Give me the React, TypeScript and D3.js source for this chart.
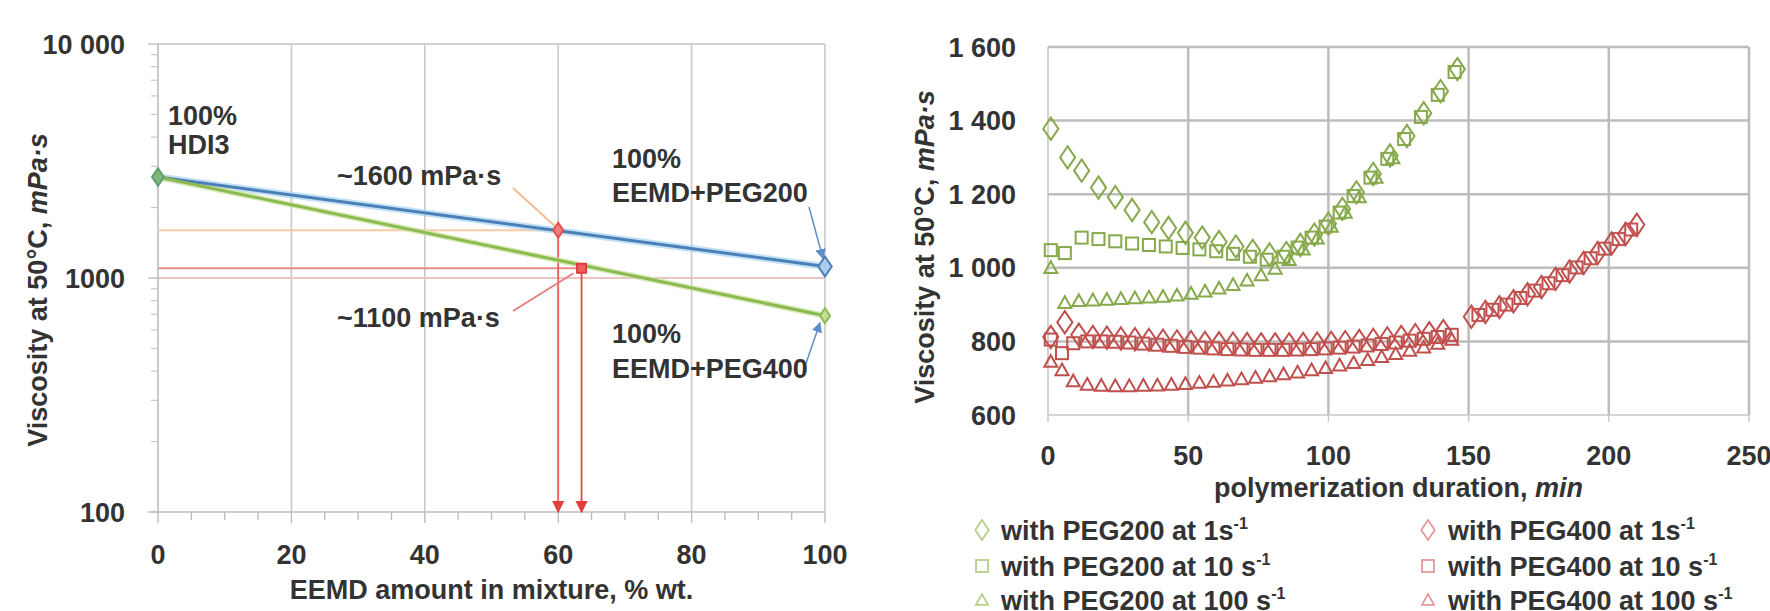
import React from "react";
import * as d3 from "d3";

// ---------- Left chart data ----------
const leftXTicks = [0, 20, 40, 60, 80, 100];
const leftYTicks = [100, 1000, 10000];
const leftYTickLabels = ["100", "1000", "10 000"];
const mixX = [0, 100];
const peg200Visc = [2700, 1120];
const peg400Visc = [2700, 690];
const point1600 = [60, 1600];
const point1100 = [63.5, 1100];

// ---------- Right chart data ----------
const rightXTicks = [0, 50, 100, 150, 200, 250];
const rightYTicks = [600, 800, 1000, 1200, 1400, 1600];
const rightYTickLabels = ["600", "800", "1 000", "1 200", "1 400", "1 600"];

const peg200_1_t = [1, 7, 12, 18, 24, 30, 37, 43, 49, 55, 61, 67, 73, 79, 85, 90, 95, 100, 105, 110, 116, 122, 128, 134, 140, 146];
const peg200_1_v = [1378, 1300, 1264, 1218, 1192, 1157, 1124, 1108, 1095, 1082, 1070, 1058, 1046, 1036, 1040, 1062, 1090, 1120, 1160, 1205, 1255, 1305, 1358, 1420, 1480, 1540];
const peg200_10_t = [1, 6, 12, 18, 24, 30, 36, 42, 48, 54, 60, 66, 72, 78, 84, 89, 94, 99, 104, 109, 115, 121, 127, 133, 139, 145];
const peg200_10_v = [1048, 1040, 1082, 1078, 1072, 1066, 1062, 1058, 1054, 1050, 1045, 1038, 1030, 1022, 1030, 1055, 1082, 1112, 1150, 1195, 1245, 1296, 1350, 1410, 1470, 1532];
const peg200_100_t = [1, 6, 11, 16, 21, 26, 31, 36, 41, 46, 51, 56, 61, 66, 71, 76, 81, 86, 91, 96, 101, 106, 111, 117, 123];
const peg200_100_v = [1000, 905, 910, 912, 914, 916, 918, 920, 922, 925, 930, 936, 944, 954, 966, 980, 998, 1022, 1050, 1080, 1112, 1150, 1192, 1245, 1298];

const peg400_1_t = [1, 6, 11, 16, 21, 26, 31, 36, 41, 46, 51, 56, 61, 66, 71, 76, 81, 86, 91, 96, 101, 106, 111, 116, 121, 126, 131, 136, 141, 151, 156, 161, 166, 171, 176, 181, 186, 191, 196, 201, 206, 210];
const peg400_1_v = [812, 852, 818, 812, 810, 808, 806, 804, 802, 800, 798, 796, 795, 794, 793, 792, 792, 792, 793, 794, 796, 798, 801, 804, 808, 812, 817, 822, 828, 867, 880, 893, 909, 928, 948, 970, 990, 1013, 1040, 1066, 1092, 1117];
const peg400_10_t = [1, 5, 9, 14, 19, 24, 29, 34, 39, 44, 49, 54, 59, 64, 69, 74, 79, 84, 89, 94, 99, 104, 109, 114, 119, 124, 129, 134, 139, 144, 153.5, 158.5, 163.5, 168.5, 173.5, 178.5, 183.5, 188.5, 193.5, 198.5, 203.5, 208];
const peg400_10_v = [805, 768, 795, 800, 800, 799, 797, 794, 791, 788, 785, 783, 781, 779, 778, 777, 777, 777, 778, 779, 781, 783, 786, 789, 793, 797, 802, 807, 812, 818, 872, 886, 900, 918, 938, 958, 980, 1001, 1026, 1052, 1078, 1104];
const peg400_100_t = [1, 5, 9, 14, 19, 24, 29, 34, 39, 44, 49, 54, 59, 64, 69, 74, 79, 84, 89, 94, 99, 104, 109, 114, 119, 124, 129, 134, 139, 144];
const peg400_100_v = [745, 722, 692, 683, 680, 679, 679, 680, 681, 683, 685, 688, 691, 694, 698, 702, 706, 711, 716, 722, 728, 735, 742, 750, 758, 766, 775, 784, 794, 805];

const legendLabels = [
  ["with PEG200 at 1s", "with PEG200 at 10 s", "with PEG200 at 100 s"],
  ["with PEG400 at 1s", "with PEG400 at 10 s", "with PEG400 at 100 s"],
];

const FONT = "'Liberation Sans', Arial, sans-serif";
const TXT = "#333";
const FS = 27;

function Marker({ shape, x, y, s, stroke, fill = "none", sw = 2 }: any) {
  if (shape === "diamond") {
    const h = s * 0.62;
    const w = s * 0.42;
    return <path d={`M${x},${y - h}L${x + w},${y}L${x},${y + h}L${x - w},${y}Z`} fill={fill} stroke={stroke} strokeWidth={sw} />;
  }
  if (shape === "square") {
    const h = s / 2;
    return <rect x={x - h} y={y - h} width={s} height={s} fill={fill} stroke={stroke} strokeWidth={sw} />;
  }
  const h = s / 2;
  return <path d={`M${x},${y - h}L${x + h},${y + h * 0.8}L${x - h},${y + h * 0.8}Z`} fill={fill} stroke={stroke} strokeWidth={sw} />;
}

export default function App() {
  // left scales
  const xL = d3.scaleLinear().domain([0, 100]).range([158, 825]);
  const yL = d3.scaleLog().domain([100, 10000]).range([512, 44]);
  // right scales
  const xR = d3.scaleLinear().domain([0, 250]).range([1048, 1749]);
  const yR = d3.scaleLinear().domain([600, 1600]).range([415, 47]);

  const lineL = d3.line<number>().x((_, i) => xL(mixX[i])).y((d) => yL(d));

  const minorY: number[] = [];
  [100, 1000].forEach((b) => { for (let k = 2; k <= 9; k++) minorY.push(b * k); });
  const minorX = d3.range(0, 101, 5);

  const green = "#86A94B";
  const red = "#C0504D";

  const rightSeries = [
    { t: peg200_1_t, v: peg200_1_v, shape: "diamond", stroke: green, s: 18 },
    { t: peg200_10_t, v: peg200_10_v, shape: "square", stroke: green, s: 12 },
    { t: peg200_100_t, v: peg200_100_v, shape: "tri", stroke: green, s: 13 },
    { t: peg400_1_t, v: peg400_1_v, shape: "diamond", stroke: red, s: 18 },
    { t: peg400_10_t, v: peg400_10_v, shape: "square", stroke: red, s: 12 },
    { t: peg400_100_t, v: peg400_100_v, shape: "tri", stroke: red, s: 13 },
  ];

  const p1600 = [xL(point1600[0]), yL(point1600[1])];
  const p1100 = [xL(point1100[0]), yL(point1100[1])];

  return (
    <svg width={1770} height={611} style={{ display: "block", position: "absolute", left: 0, top: 0, background: "#fff" }} fontFamily={FONT}>
      <defs>
        <marker id="arrRed" viewBox="0 0 10 10" refX="9" refY="5" markerWidth="7" markerHeight="7" orient="auto-start-reverse">
          <path d="M0,0L10,5L0,10Z" fill="#E04040" />
        </marker>
        <marker id="arrBlue" viewBox="0 0 10 10" refX="9" refY="5" markerWidth="7" markerHeight="7" orient="auto-start-reverse">
          <path d="M0,0L10,5L0,10Z" fill="#5B8FC9" />
        </marker>
      </defs>
      <rect x={0} y={0} width={1770} height={611} fill="#fff" />

      {/* ================= LEFT CHART ================= */}
      {/* gridlines */}
      {leftXTicks.slice(1).map((t) => (
        <line key={"lgx" + t} x1={xL(t)} x2={xL(t)} y1={yL(10000)} y2={yL(100)} stroke="#C9C9C9" strokeWidth={1.6} />
      ))}
      <line x1={xL(0)} x2={xL(100)} y1={yL(10000)} y2={yL(10000)} stroke="#D2D2D2" strokeWidth={2} />
      <line x1={xL(0)} x2={xL(100)} y1={yL(1000)} y2={yL(1000)} stroke="#EBC4C4" strokeWidth={2} />
      {/* axes */}
      <line x1={xL(0)} x2={xL(0)} y1={yL(10000)} y2={yL(100)} stroke="#BDBDBD" strokeWidth={1.6} />
      <line x1={xL(0) - 6} x2={xL(100)} y1={yL(100)} y2={yL(100)} stroke="#BDBDBD" strokeWidth={1.6} />
      {minorX.map((t) => (
        <line key={"lmx" + t} x1={xL(t)} x2={xL(t)} y1={yL(100)} y2={yL(100) + (t % 20 === 0 ? 11 : 8)} stroke="#BDBDBD" strokeWidth={1.4} />
      ))}
      {minorY.map((v) => (
        <line key={"lmy" + v} x1={xL(0) - 7} x2={xL(0)} y1={yL(v)} y2={yL(v)} stroke="#C8C8C8" strokeWidth={1.2} />
      ))}
      {leftYTicks.map((v) => (
        <line key={"lmj" + v} x1={xL(0) - 10} x2={xL(0)} y1={yL(v)} y2={yL(v)} stroke="#BDBDBD" strokeWidth={1.4} />
      ))}
      {/* tick labels */}
      {leftXTicks.map((t) => (
        <text key={"lxl" + t} x={xL(t)} y={564} textAnchor="middle" fontSize={FS} fontWeight="bold" fill={TXT}>{t}</text>
      ))}
      {leftYTicks.map((v, i) => (
        <text key={"lyl" + v} x={125} y={yL(v) + 9.5} textAnchor="end" fontSize={FS} fontWeight="bold" fill={TXT}>{leftYTickLabels[i]}</text>
      ))}
      <text x={(xL(0) + xL(100)) / 2} y={599} textAnchor="middle" fontSize={FS} fontWeight="bold" fill={TXT}>EEMD amount in mixture, % wt.</text>
      <text transform={`translate(47,290) rotate(-90)`} textAnchor="middle" fontSize={FS} fontWeight="bold" fill={TXT}>
        Viscosity at 50°C, <tspan fontStyle="italic">mPa·s</tspan>
      </text>

      {/* annotation lines */}
      <line x1={xL(0)} x2={p1600[0]} y1={p1600[1]} y2={p1600[1]} stroke="#F9C9A6" strokeWidth={2} />
      <line x1={xL(0)} x2={p1100[0]} y1={p1100[1]} y2={p1100[1]} stroke="#E98A8A" strokeWidth={2} />
      <line x1={p1600[0]} x2={p1600[0]} y1={p1600[1]} y2={yL(100)} stroke="#E86060" strokeWidth={1.8} markerEnd="url(#arrRed)" />
      <line x1={p1100[0]} x2={p1100[0]} y1={p1100[1]} y2={yL(100)} stroke="#E04848" strokeWidth={1.8} markerEnd="url(#arrRed)" />

      {/* data lines */}
      <path d={lineL(peg200Visc) || ""} fill="none" stroke="#A9D4F0" strokeWidth={7} opacity={0.7} />
      <path d={lineL(peg400Visc) || ""} fill="none" stroke="#C9E3A0" strokeWidth={6} opacity={0.7} />
      <path d={lineL(peg200Visc) || ""} fill="none" stroke="#4A7FB8" strokeWidth={3} />
      <path d={lineL(peg400Visc) || ""} fill="none" stroke="#8DBA4E" strokeWidth={3} />

      {/* leaders */}
      <line x1={513} y1={188} x2={p1600[0] - 2} y2={p1600[1] - 3} stroke="#F7B98A" strokeWidth={1.8} />
      <line x1={513} y1={311} x2={p1100[0] - 8} y2={p1100[1] + 5} stroke="#E97A7A" strokeWidth={1.8} />
      <line x1={809} y1={207} x2={xL(100) - 2} y2={yL(peg200Visc[1]) - 8} stroke="#5B8FC9" strokeWidth={1.5} markerEnd="url(#arrBlue)" />
      <line x1={803} y1={372} x2={xL(100) - 5} y2={yL(peg400Visc[1]) + 7} stroke="#5B8FC9" strokeWidth={1.5} markerEnd="url(#arrBlue)" />

      {/* markers */}
      <Marker shape="diamond" x={xL(mixX[0])} y={yL(peg200Visc[0])} s={14} stroke="#5E9E6A" fill="#7FB77E" />
      <Marker shape="diamond" x={xL(mixX[1])} y={yL(peg200Visc[1])} s={16} stroke="#4A7FB8" fill="#A9CDEB" />
      <Marker shape="diamond" x={xL(mixX[1])} y={yL(peg400Visc[1])} s={12} stroke="#8DBA4E" fill="#C3DE95" />
      <Marker shape="diamond" x={p1600[0]} y={p1600[1]} s={12} stroke="#E05050" fill="#F08080" />
      <Marker shape="square" x={p1100[0]} y={p1100[1]} s={9} stroke="#E03C3C" fill="#F06060" />

      {/* annotation text */}
      <text x={168} y={125} fontSize={FS} fontWeight="bold" fill={TXT}>100%</text>
      <text x={168} y={154} fontSize={FS} fontWeight="bold" fill={TXT}>HDI3</text>
      <text x={337} y={185} fontSize={FS} fontWeight="bold" fill={TXT}>~1600 mPa·s</text>
      <text x={337} y={327} fontSize={FS} fontWeight="bold" fill={TXT}>~1100 mPa·s</text>
      <text x={612} y={168} fontSize={FS} fontWeight="bold" fill={TXT}>100%</text>
      <text x={612} y={202} fontSize={FS} fontWeight="bold" fill={TXT}>EEMD+PEG200</text>
      <text x={612} y={343} fontSize={FS} fontWeight="bold" fill={TXT}>100%</text>
      <text x={612} y={378} fontSize={FS} fontWeight="bold" fill={TXT}>EEMD+PEG400</text>

      {/* ================= RIGHT CHART ================= */}
      {rightXTicks.map((t) => (
        <line key={"rgx" + t} x1={xR(t)} x2={xR(t)} y1={yR(1600)} y2={yR(600)} stroke={t === 0 ? "#C8C8C8" : "#BDBDBD"} strokeWidth={t === 0 ? 1.6 : 2.5} />
      ))}
      {rightYTicks.map((v) => (
        <line key={"rgy" + v} x1={xR(0)} x2={xR(250)} y1={yR(v)} y2={yR(v)} stroke={v === 600 ? "#C8C8C8" : "#BDBDBD"} strokeWidth={v === 600 ? 1.6 : 2.5} />
      ))}
      {rightXTicks.map((t) => (
        <line key={"rtx" + t} x1={xR(t)} x2={xR(t)} y1={yR(600)} y2={yR(600) + 7} stroke="#C8C8C8" strokeWidth={1.4} />
      ))}
      {rightXTicks.map((t) => (
        <text key={"rxl" + t} x={xR(t)} y={465} textAnchor="middle" fontSize={FS} fontWeight="bold" fill={TXT}>{t}</text>
      ))}
      {rightYTicks.map((v, i) => (
        <text key={"ryl" + v} x={1016} y={yR(v) + 9.5} textAnchor="end" fontSize={FS} fontWeight="bold" fill={TXT}>{rightYTickLabels[i]}</text>
      ))}
      <text x={(xR(0) + xR(250)) / 2} y={497} textAnchor="middle" fontSize={FS} fontWeight="bold" fill={TXT}>
        polymerization duration, <tspan fontStyle="italic">min</tspan>
      </text>
      <text transform={`translate(934,247) rotate(-90)`} textAnchor="middle" fontSize={FS} fontWeight="bold" fill={TXT}>
        Viscosity at 50°C, <tspan fontStyle="italic">mPa·s</tspan>
      </text>

      {rightSeries.map((s, si) => (
        <g key={"rs" + si}>
          {s.t.map((t, i) => (
            <Marker key={i} shape={s.shape} x={xR(t)} y={yR(s.v[i])} s={s.s} stroke={s.stroke} sw={2} />
          ))}
        </g>
      ))}

      {/* legend */}
      {legendLabels.map((col, ci) =>
        col.map((lab, ri) => {
          const mx = ci === 0 ? 982 : 1428;
          const tx = ci === 0 ? 1001 : 1448;
          const cy = [530, 566, 600][ri];
          const shape = ["diamond", "square", "tri"][ri];
          const col2 = ci === 0 ? "#B5CF8A" : "#E39A9A";
          return (
            <g key={"lg" + ci + ri}>
              <Marker shape={shape} x={mx} y={cy} s={ri === 0 ? 16 : 12} stroke={col2} sw={1.8} />
              <text x={tx} y={cy + 9.5} fontSize={FS} fontWeight="bold" fill={TXT}>
                {lab}
                <tspan fontSize={16} dy={-11}>-1</tspan>
              </text>
            </g>
          );
        })
      )}
    </svg>
  );
}
